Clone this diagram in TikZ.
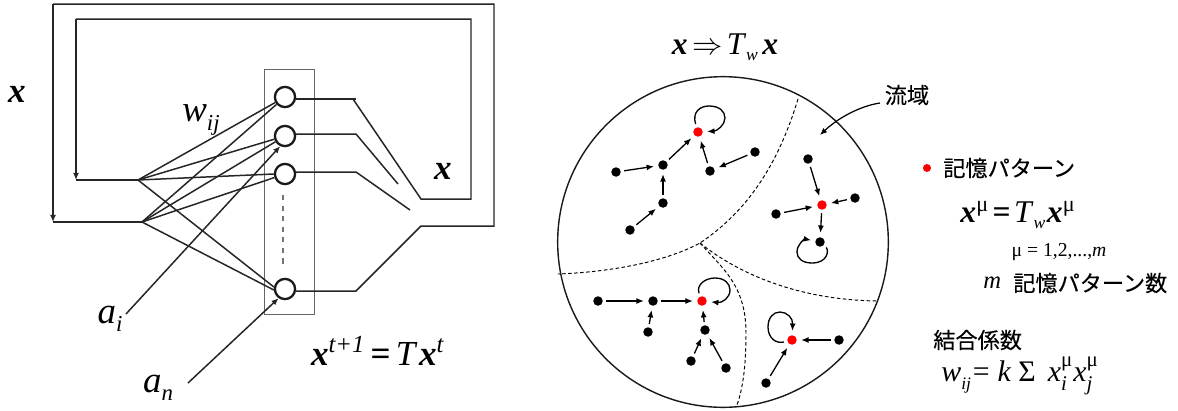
\documentclass[tikz,border=0pt]{standalone}
\usepackage{amsmath}
\usepackage{fontspec}
\setmainfont{Liberation Serif}
\newfontfamily\cjk[FakeBold=0.25]{Noto Sans CJK JP}
\usetikzlibrary{arrows.meta}
\newcommand{\vx}{\textbf{\textit{x}}}
\newcommand{\lowsub}[1]{\raisebox{-0.22em}{\fontsize{13}{14}\selectfont\textit{#1}}}
\tikzset{
  wire/.style={line width=0.85pt,draw=black!85},
  cell/.style={circle,draw=black!90,line width=1.3pt,fill=white,inner sep=0pt,minimum size=11.5pt},
  state/.style={circle,fill=black,inner sep=0pt,minimum size=5.4pt},
  memory/.style={circle,fill=red,inner sep=0pt,minimum size=5.4pt},
  flow/.style={line width=0.75pt,-{Latex[length=4.2pt,width=3.4pt]},shorten >=2.3pt,shorten <=1.8pt},
  tipwire/.style={wire,-{Latex[length=4pt,width=3.4pt]}},
  boundary/.style={dashed,line width=0.55pt,dash pattern=on 2pt off 1.4pt},
  big/.style={inner sep=0pt,font=\fontsize{20}{22}\selectfont},
  mid/.style={inner sep=0pt,font=\fontsize{21}{23}\selectfont},
  small/.style={inner sep=0pt,font=\fontsize{11.2}{13}\selectfont},
  jp/.style={inner sep=0pt,font=\cjk\fontsize{12.6}{14}\selectfont}
}
\begin{document}
\begin{tikzpicture}[x=0.02cm,y=-0.02cm]
\useasboundingbox (0,0) rectangle (1178,410);
% network
\draw[draw=black!60,line width=0.55pt] (264,69) rectangle (314,314);
\node[cell] (c1) at (285,97) {};
\node[cell] (c2) at (285,136) {};
\node[cell] (c3) at (285,174) {};
\node[cell] (cn) at (285,289) {};
\coordinate (fanA) at (138,180);
\coordinate (fanB) at (142,222);
\coordinate (retA) at (76,180);
\coordinate (retB) at (53,222);
\coordinate (ai) at (126,314);
\coordinate (an) at (188,383);
\coordinate (kneeA) at (421,199);
\coordinate (kneeB) at (421,226);
\draw[wire] (fanA)--(c1);
\draw[wire] (fanA)--(c2);
\draw[wire] (fanA)--(c3.west);
\draw[wire] (fanA)--(cn.170);
\draw[wire] (fanB)--(c1);
\draw[wire] (fanB)--(c2);
\draw[wire] (fanB)--(c3);
\draw[wire] (fanB)--(cn.185);
\draw[wire] (retA)--(fanA);
\draw[wire] (retB)--(fanB);
\draw[tipwire] (ai)--(c2.245);
\draw[tipwire] (an)--(cn.235);
\draw[dashed,draw=black!55,line width=0.7pt] (283,195)--(283,265);
% outputs and feedback
\draw[wire] (c1.east |- 0,99)--(356,99);
\draw[wire] (353,99)--(kneeA)--(471,199)--(471,19)--(76,19);
\draw[tipwire] (76,19)--(retA);
\draw[wire] (c2.east |- 0,134)--(356,134)--(398,184);
\draw[wire] (c3.east |- 0,172)--(356,172)--(410,210);
\draw[wire] (cn.east |- 0,291)--(356,291)--(kneeB)--(494,226)--(494,4)--(53,4);
\draw[tipwire] (53,4)--(retB);
\node[big] (xleft) at (17,94) {\vx};
\node[big] (xright) at (443,171) {\vx};
\node[mid] (wij) at (201,120) {\textit{w}\lowsub{ij}};
\node[mid] (ailabel) at (110,319) {\textit{a}\lowsub{i}};
\node[mid] (anlabel) at (158,388) {\textit{a}\lowsub{n}};
\node[big] (rule) at (378,351) {\vx\textsuperscript{\textit{t+1}}\hspace{3pt}\textbf{=}\hspace{3pt}\textit{T}\hspace{1pt}\vx\textsuperscript{\textit{t}}};
% basin picture
\node[big,font=\fontsize{18}{20}\selectfont] (map) at (725,47) {\vx\hspace{2.5pt}$\Rightarrow$\hspace{2.5pt}\textit{T}\raisebox{-0.2em}{\fontsize{10}{11}\selectfont\textit{w}}\hspace{2.5pt}\vx};
\node[circle,draw=black!90,line width=0.8pt,inner sep=0pt,minimum size=188.2pt] (basin) at (723,242) {};
\coordinate (meet) at (700,243);
\draw[boundary] (798,99) .. controls (775,175) and (740,216) .. (meet) .. controls (665,262) and (610,272) .. (558,274);
\draw[boundary] (meet) .. controls (722,268) and (746,285) .. (746,333) .. controls (746,360) and (744,385) .. (737,405);
\draw[boundary] (meet) .. controls (740,275) and (800,300) .. (878,301);
% upper left
\node[memory] (m1) at (698,132) {};
\node[state] (s1) at (616,172) {};
\node[state] (s2) at (663,165) {};
\node[state] (s3) at (663,203) {};
\node[state] (s4) at (630,230) {};
\node[state] (s5) at (710,171) {};
\node[state] (s6) at (755,152) {};
\draw[flow] (s1)--(s2);
\draw[flow] (s4)--(s3);
\draw[flow] (s3)--(s2);
\draw[flow] (s2)--(m1);
\draw[flow] (s5)--(m1);
\draw[flow] (s6)--(s5);
\draw[flow] (m1) .. controls (692,112) and (700,106) .. (709,106) .. controls (719,106) and (725,111) .. (725,118) .. controls (725,125) and (717,131) .. (m1);
% right
\node[memory] (m2) at (822,205) {};
\node[state] (r1) at (808,159) {};
\node[state] (r2) at (776,214) {};
\node[state] (r3) at (855,198) {};
\node[state] (r4) at (820,242) {};
\draw[flow] (r1)--(m2);
\draw[flow] (r2)--(m2);
\draw[flow] (r3)--(m2);
\draw[flow] (m2)--(r4);
\draw[flow] (r4) .. controls (829,250) and (828,263) .. (812,263) .. controls (802,263) and (797,258) .. (797,252) .. controls (797,244) and (805,239) .. (r4);
% lower left
\node[memory] (m3) at (702,301) {};
\node[state] (p1) at (598,301) {};
\node[state] (p2) at (653,301) {};
\node[state] (p3) at (648,332) {};
\node[state] (p4) at (705,330) {};
\node[state] (p5) at (691,361) {};
\node[state] (p6) at (726,368) {};
\draw[flow] (p1)--(p2);
\draw[flow] (p2)--(m3);
\draw[flow] (p3)--(p2);
\draw[flow] (p4)--(m3);
\draw[flow] (p5)--(p4);
\draw[flow] (p6)--(p4);
\draw[flow] (m3) .. controls (696,285) and (705,278) .. (715,278) .. controls (724,278) and (730,283) .. (730,290) .. controls (730,298) and (722,303) .. (m3);
% lower right
\node[memory] (m4) at (792,340) {};
\node[state] (q1) at (839,340) {};
\node[state] (q2) at (766,383) {};
\draw[flow] (q1)--(m4);
\draw[flow] (q2)--(m4);
\draw[flow] (m4) .. controls (776,344) and (768,338) .. (768,327) .. controls (768,318) and (773,312) .. (780,312) .. controls (787,312) and (793,318) .. (m4);
% legend
\node[jp] (basinlabel) at (907,95) {流域};
\coordinate (basinend) at (820,135);
\draw[line width=0.7pt,-{Latex[length=4pt,width=3.4pt]}] (880,103) .. controls (860,106) and (838,118) .. (basinend);
\node[memory,minimum size=4.6pt] (legdot) at (927,168) {};
\node[jp,anchor=west] (memlabel) at (943,168) {記憶パターン};
\node[big,font=\fontsize{18}{20}\selectfont] (fixed) at (1018,215) {\vx\textsuperscript{μ}\hspace{2pt}\textbf{=}\hspace{2pt}\textit{T}\raisebox{-0.2em}{\fontsize{10}{11}\selectfont\textit{w}}\hspace{1pt}\vx\textsuperscript{μ}};
\node[small] (mulabel) at (1059,252) {μ = 1,2,...,\textit{m}};
\node[inner sep=0pt,font=\fontsize{14}{16}\selectfont,anchor=west] (mlabel) at (983,283) {\textit{m}};
\node[jp,anchor=west] (numlabel) at (1013,283) {記憶パターン数};
\node[jp,anchor=west] (weightlabel) at (933,340) {結合係数};
\node[inner sep=0pt,font=\fontsize{17}{19}\selectfont,anchor=west] (weight) at (941,376) {\textit{w}\raisebox{-0.25em}{\fontsize{10}{11}\selectfont\textit{ij}}\hspace{1pt}=\hspace{4.5pt}\textit{k}\hspace{4pt}Σ\hspace{7pt}$\textit{x}^{\text{μ}}_{\textit{i}}\textit{x}^{\text{μ}}_{\textit{j}}$};
\end{tikzpicture}
\end{document}
